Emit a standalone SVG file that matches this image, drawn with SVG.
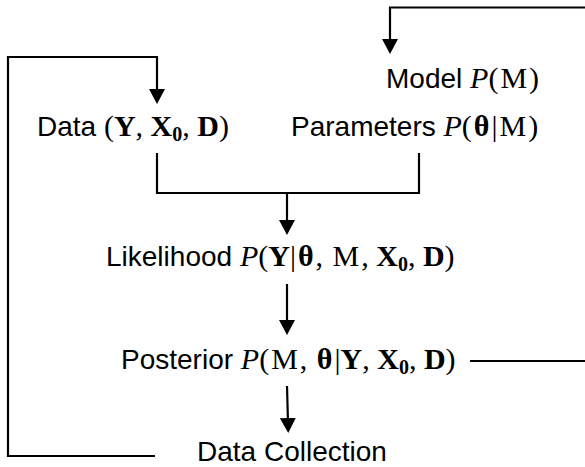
<svg xmlns="http://www.w3.org/2000/svg" width="585" height="467" viewBox="0 0 585 467">
<style>
.t{font-family:"Liberation Sans",Arial,sans-serif;font-size:28px;fill:#000}
.m{font-family:"Liberation Serif","Times New Roman",serif;font-size:30px}
.i{font-style:italic}
.b{font-weight:bold}
.sub{font-size:20px;font-weight:bold}
.c{fill:none;stroke:#000;stroke-width:2.2}
</style>
<defs>
<marker id="ah" viewBox="0 0 15 16" refX="5" refY="8" markerWidth="15" markerHeight="16" markerUnits="userSpaceOnUse" orient="auto">
<path d="M0,0 L15,8 L0,16 z" fill="#000"/>
</marker>
</defs>
<rect width="585" height="467" fill="#fff"/>
<g id="connectors">
<path class="c" d="M585,7.5 H390 V44" marker-end="url(#ah)"/>
<path class="c" d="M155,456 H8 V57 H157 V94" marker-end="url(#ah)"/>
<path class="c" d="M157,153 V193 H419 V153"/>
<path class="c" d="M287,193 V225" marker-end="url(#ah)"/>
<path class="c" d="M287,284 V325" marker-end="url(#ah)"/>
<path class="c" d="M287,386 L288,423" marker-end="url(#ah)"/>
<path class="c" d="M470,361 H585"/>
</g>
<g id="model">
<text class="t" x="386" y="88">Model <tspan class="m i">P</tspan><tspan class="m">(</tspan><tspan class="m" dx="2">M</tspan><tspan class="m" dx="2">)</tspan></text>
</g>
<g id="data">
<text class="t" x="37" y="136">Data <tspan class="m">(</tspan><tspan class="m b">Y</tspan><tspan class="m">, </tspan><tspan class="m b">X</tspan><tspan class="m sub" dy="5">0</tspan><tspan class="m" dy="-5">, </tspan><tspan class="m b">D</tspan><tspan class="m">)</tspan></text>
</g>
<g id="parameters">
<text class="t" x="291" y="136">Parameters <tspan class="m i">P</tspan><tspan class="m">(</tspan><tspan class="m b" dx="2">θ</tspan><tspan class="m" dx="2">|</tspan><tspan class="m" dx="2">M</tspan><tspan class="m" dx="2">)</tspan></text>
</g>
<g id="likelihood">
<text class="t" x="106" y="266">Likelihood <tspan class="m i">P</tspan><tspan class="m">(</tspan><tspan class="m b">Y</tspan><tspan class="m">|</tspan><tspan class="m b" dx="2">θ</tspan><tspan class="m" dx="2">, </tspan><tspan class="m" dx="2">M</tspan><tspan class="m" dx="2">, </tspan><tspan class="m b">X</tspan><tspan class="m sub" dy="5">0</tspan><tspan class="m" dy="-5">, </tspan><tspan class="m b">D</tspan><tspan class="m">)</tspan></text>
</g>
<g id="posterior">
<text class="t" x="121" y="369">Posterior <tspan class="m i">P</tspan><tspan class="m">(</tspan><tspan class="m" dx="2">M</tspan><tspan class="m" dx="2">, </tspan><tspan class="m b" dx="2">θ</tspan><tspan class="m" dx="2">|</tspan><tspan class="m b">Y</tspan><tspan class="m">, </tspan><tspan class="m b">X</tspan><tspan class="m sub" dy="5">0</tspan><tspan class="m" dy="-5">, </tspan><tspan class="m b">D</tspan><tspan class="m">)</tspan></text>
</g>
<g id="datacollection">
<text class="t" x="197" y="461">Data Collection</text>
</g>
</svg>
